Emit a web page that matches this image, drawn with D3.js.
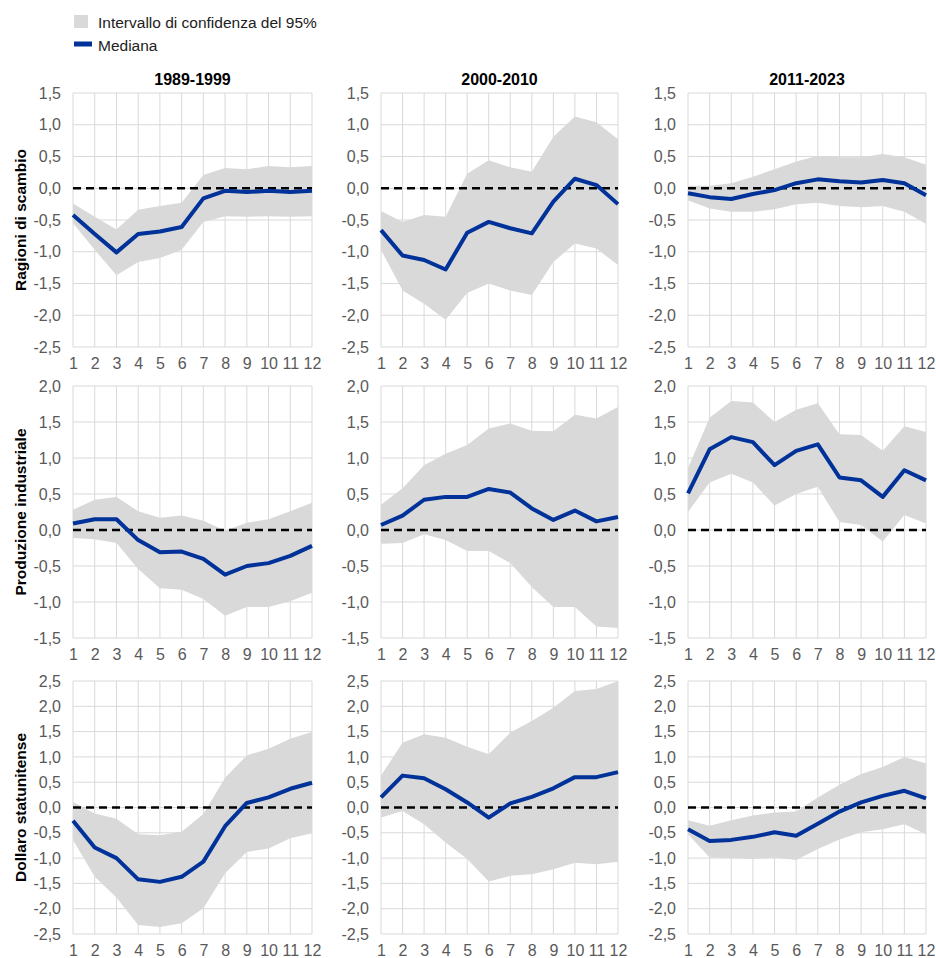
<!DOCTYPE html>
<html><head><meta charset="utf-8">
<script src="https://cdn.jsdelivr.net/npm/d3@7"></script>
<style>
body{margin:0;background:#fff;}
svg{display:block;font-family:"Liberation Sans",Arial,sans-serif;}
</style></head>
<body><svg id="c" width="936" height="958"></svg>
<script>
const periods = ["1989-1999", "2000-2010", "2011-2023"];
const variables = ["Ragioni di scambio", "Produzione industriale", "Dollaro statunitense"];
const horizons = [1,2,3,4,5,6,7,8,9,10,11,12];
const yDomains = [[-2.5, 1.5], [-1.5, 2.0], [-2.5, 2.5]];
const legendLabels = ["Intervallo di confidenza del 95%", "Mediana"];

// Ragioni di scambio
const tot1_med = [-0.42,-0.72,-1.01,-0.72,-0.68,-0.61,-0.16,-0.04,-0.06,-0.04,-0.06,-0.04];
const tot1_hi  = [-0.24,-0.45,-0.65,-0.34,-0.28,-0.23,0.21,0.32,0.30,0.35,0.33,0.35];
const tot1_lo  = [-0.55,-0.97,-1.37,-1.16,-1.10,-0.97,-0.53,-0.44,-0.45,-0.44,-0.45,-0.44];
const tot2_med = [-0.66,-1.06,-1.13,-1.28,-0.70,-0.53,-0.63,-0.71,-0.21,0.15,0.05,-0.25];
const tot2_hi  = [-0.36,-0.53,-0.42,-0.45,0.23,0.44,0.33,0.26,0.81,1.13,1.04,0.77];
const tot2_lo  = [-0.97,-1.61,-1.82,-2.07,-1.65,-1.50,-1.61,-1.68,-1.16,-0.87,-0.95,-1.21];
const tot3_med = [-0.08,-0.14,-0.17,-0.09,-0.03,0.08,0.14,0.11,0.09,0.13,0.08,-0.11];
const tot3_hi  = [0.04,0.04,0.08,0.18,0.30,0.42,0.51,0.49,0.49,0.54,0.49,0.37];
const tot3_lo  = [-0.19,-0.32,-0.37,-0.37,-0.33,-0.25,-0.23,-0.28,-0.30,-0.28,-0.37,-0.56];

// Produzione industriale
const ip1_med = [0.09,0.15,0.15,-0.14,-0.31,-0.30,-0.40,-0.62,-0.50,-0.46,-0.36,-0.22];
const ip1_hi  = [0.28,0.42,0.46,0.26,0.17,0.20,0.13,-0.01,0.10,0.15,0.26,0.38];
const ip1_lo  = [-0.11,-0.13,-0.18,-0.54,-0.81,-0.83,-0.96,-1.19,-1.07,-1.07,-0.99,-0.87];
const ip2_med = [0.07,0.20,0.42,0.46,0.46,0.57,0.52,0.30,0.14,0.27,0.12,0.18];
const ip2_hi  = [0.35,0.58,0.90,1.06,1.18,1.41,1.48,1.38,1.37,1.60,1.55,1.71];
const ip2_lo  = [-0.19,-0.18,-0.06,-0.14,-0.29,-0.29,-0.46,-0.79,-1.07,-1.07,-1.34,-1.36];
const ip3_med = [0.51,1.12,1.29,1.22,0.90,1.10,1.19,0.73,0.69,0.46,0.83,0.69];
const ip3_hi  = [0.86,1.56,1.79,1.77,1.50,1.67,1.76,1.33,1.32,1.10,1.44,1.36];
const ip3_lo  = [0.25,0.66,0.78,0.66,0.34,0.50,0.60,0.11,0.07,-0.16,0.21,0.09];

// Dollaro statunitense
const usd1_med = [-0.26,-0.79,-1.00,-1.42,-1.47,-1.37,-1.07,-0.37,0.09,0.20,0.37,0.49];
const usd1_hi  = [0.11,-0.12,-0.22,-0.53,-0.55,-0.48,-0.13,0.59,1.03,1.16,1.36,1.49];
const usd1_lo  = [-0.64,-1.37,-1.78,-2.32,-2.36,-2.29,-1.99,-1.30,-0.88,-0.81,-0.61,-0.51];
const usd2_med = [0.20,0.63,0.58,0.36,0.10,-0.20,0.08,0.21,0.38,0.60,0.60,0.70];
const usd2_hi  = [0.63,1.28,1.45,1.38,1.20,1.05,1.48,1.71,1.97,2.30,2.34,2.50];
const usd2_lo  = [-0.20,-0.07,-0.33,-0.69,-1.02,-1.46,-1.35,-1.32,-1.22,-1.09,-1.12,-1.07];
const usd3_med = [-0.43,-0.66,-0.64,-0.58,-0.49,-0.56,-0.32,-0.08,0.10,0.23,0.33,0.18];
const usd3_hi  = [-0.25,-0.36,-0.25,-0.16,-0.10,-0.08,0.20,0.45,0.66,0.80,1.00,0.87];
const usd3_lo  = [-0.53,-0.99,-1.00,-1.02,-0.99,-1.04,-0.82,-0.63,-0.49,-0.43,-0.33,-0.53];

const panels = [
  [[tot1_med,tot1_hi,tot1_lo],[tot2_med,tot2_hi,tot2_lo],[tot3_med,tot3_hi,tot3_lo]],
  [[ip1_med,ip1_hi,ip1_lo],[ip2_med,ip2_hi,ip2_lo],[ip3_med,ip3_hi,ip3_lo]],
  [[usd1_med,usd1_hi,usd1_lo],[usd2_med,usd2_hi,usd2_lo],[usd3_med,usd3_hi,usd3_lo]]
];

const BLUE = "#003299", BAND = "#d9d9d9", GRID = "#d9d9d9", TXT = "#595959";
const colL = [73, 381, 688], colR = [312, 618, 926];
const rowT = [93, 386, 681], rowB = [347, 638, 934];

const svg = d3.select("#c");
const fmt = v => (v < -1e-9 ? "-" : "") + Math.abs(v).toFixed(1).replace(".", ",");

// Legend
const lg = svg.append("g");
lg.append("rect").attr("x", 74).attr("y", 15).attr("width", 14).attr("height", 13).attr("fill", BAND);
lg.append("line").attr("x1", 74).attr("x2", 92).attr("y1", 44).attr("y2", 44).attr("stroke", BLUE).attr("stroke-width", 5);
lg.selectAll("text").data(legendLabels).join("text")
  .attr("x", 98).attr("y", (d,i) => 27.5 + i*23).attr("font-size", 15.5).attr("fill", "#222").text(d => d);

for (let r = 0; r < 3; r++) {
  for (let c = 0; c < 3; c++) {
    const x = d3.scaleLinear().domain([1, 12]).range([colL[c], colR[c]]);
    const y = d3.scaleLinear().domain(yDomains[r]).range([rowB[r], rowT[r]]);
    const yt = d3.range(yDomains[r][0], yDomains[r][1] + 0.001, 0.5);
    const g = svg.append("g");
    // grid
    g.append("g").selectAll("line").data(yt).join("line")
      .attr("x1", colL[c]).attr("x2", colR[c]).attr("y1", d => y(d)).attr("y2", d => y(d))
      .attr("stroke", GRID).attr("stroke-width", 1);
    g.append("g").selectAll("line").data(horizons).join("line")
      .attr("x1", d => x(d)).attr("x2", d => x(d)).attr("y1", rowT[r]).attr("y2", rowB[r])
      .attr("stroke", GRID).attr("stroke-width", 1);
    const [med, hi, lo] = panels[r][c];
    const idx = d3.range(12);
    const area = d3.area().x(i => x(horizons[i])).y0(i => y(lo[i])).y1(i => y(hi[i]));
    g.append("path").datum(idx).attr("d", area).attr("fill", BAND);
    // zero line
    g.append("line").attr("x1", colL[c]).attr("x2", colR[c]).attr("y1", y(0)).attr("y2", y(0))
      .attr("stroke", "#000").attr("stroke-width", 2.5).attr("stroke-dasharray", "8,5");
    const line = d3.line().x(i => x(horizons[i])).y(i => y(med[i]));
    g.append("path").datum(idx).attr("d", line).attr("fill", "none")
      .attr("stroke", BLUE).attr("stroke-width", 4).attr("stroke-linejoin", "round");
    // axes
    const ya = g.append("g").attr("transform", `translate(${colL[c]},0)`)
      .call(d3.axisLeft(y).tickValues(yt).tickFormat(fmt).tickSize(0).tickPadding(12));
    ya.select(".domain").remove();
    ya.selectAll("text").attr("font-size", 16).attr("fill", TXT).attr("font-family", "Liberation Sans, Arial, sans-serif");
    const xa = g.append("g").attr("transform", `translate(0,${rowB[r]})`)
      .call(d3.axisBottom(x).tickValues(horizons).tickFormat(d3.format("d")).tickSize(0).tickPadding(11));
    xa.select(".domain").remove();
    xa.selectAll("text").attr("font-size", 16).attr("fill", TXT).attr("font-family", "Liberation Sans, Arial, sans-serif");
    if (r === 0) {
      g.append("text").attr("x", (colL[c] + colR[c]) / 2).attr("y", 85).attr("text-anchor", "middle")
        .attr("font-size", 16).attr("font-weight", "bold").attr("fill", "#000").text(periods[c]);
    }
    if (c === 0) {
      g.append("text").attr("transform", `translate(26,${(rowT[r] + rowB[r]) / 2}) rotate(-90)`)
        .attr("text-anchor", "middle").attr("font-size", 15.5).attr("font-weight", "bold").attr("fill", "#000")
        .text(variables[r]);
    }
  }
}
</script></body></html>
